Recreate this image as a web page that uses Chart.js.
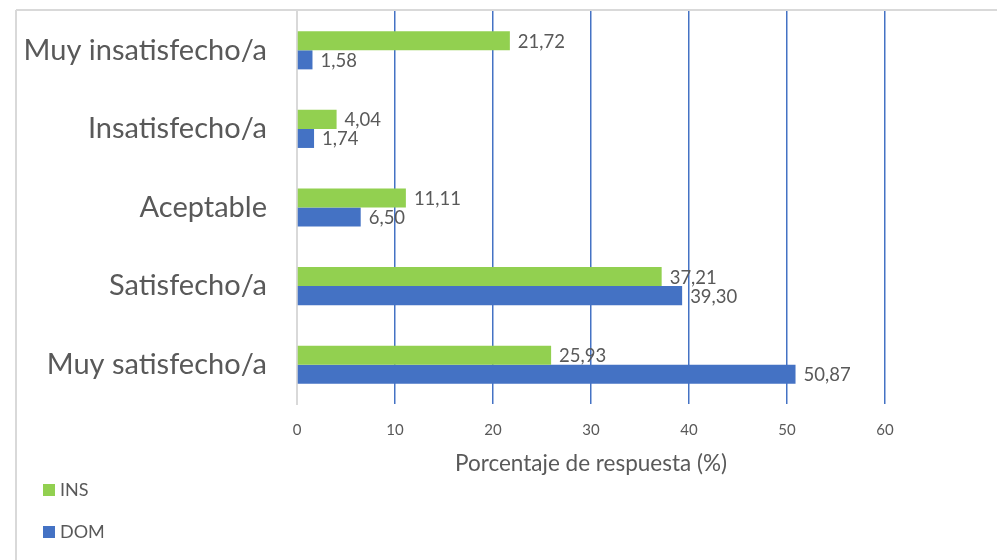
<!DOCTYPE html>
<html><head><meta charset="utf-8">
<script src="https://cdn.jsdelivr.net/npm/chart.js@4"></script>
<style>html,body{margin:0;padding:0;background:#fff}#wrap{width:997px;height:560px;position:relative}</style>
</head><body><div id="wrap"><canvas id="c" width="997" height="560"></canvas></div>
<script>
const categories = ['Muy insatisfecho/a', 'Insatisfecho/a', 'Aceptable', 'Satisfecho/a', 'Muy satisfecho/a'];
const insValues = [21.72, 4.04, 11.11, 37.21, 25.93];
const domValues = [1.58, 1.74, 6.50, 39.30, 50.87];
const xTickValues = [0, 10, 20, 30, 40, 50, 60];
const seriesNames = ['INS', 'DOM'];
const seriesColors = ['#92D050', '#4472C4'];
const axisTitle = 'Porcentaje de respuesta (%)';

const FONT = 'Lato';
const TEXT = '#595959';

const frame = {
  id: 'frame',
  beforeDraw(chart) {
    const c = chart.ctx;
    c.save();
    c.strokeStyle = '#d9d9d9';
    c.lineWidth = 2;
    c.beginPath();
    c.moveTo(16, 10); c.lineTo(997, 10);
    c.moveTo(16, 10); c.lineTo(16, 560);
    c.stroke();
    c.restore();
  }
};

const dataLabels = {
  id: 'dataLabels',
  afterDatasetsDraw(chart) {
    const c = chart.ctx;
    c.save();
    c.font = '18.5px ' + FONT;
    c.fillStyle = TEXT;
    c.textAlign = 'left';
    c.textBaseline = 'middle';
    chart.data.datasets.forEach((ds, di) => {
      const meta = chart.getDatasetMeta(di);
      meta.data.forEach((el, i) => {
        const v = ds.data[i];
        c.fillText(v.toFixed(2).replace('.', ','), el.x + 8, el.y + 1);
      });
    });
    c.restore();
  }
};

const legendPlugin = {
  id: 'customLegend',
  afterDraw(chart) {
    const c = chart.ctx;
    c.save();
    c.font = '18px ' + FONT;
    c.textAlign = 'left';
    c.textBaseline = 'middle';
    chart.data.datasets.forEach((ds, i) => {
      const cy = 490 + i * 42;
      c.fillStyle = ds.backgroundColor;
      c.fillRect(43, cy - 6, 12, 12);
      c.fillStyle = TEXT;
      c.fillText(ds.label, 60, cy);
    });
    c.restore();
  }
};

new Chart(document.getElementById('c'), {
  type: 'bar',
  data: {
    labels: categories,
    datasets: [
      { label: seriesNames[0], data: insValues, backgroundColor: seriesColors[0], borderWidth: 0 },
      { label: seriesNames[1], data: domValues, backgroundColor: seriesColors[1], borderWidth: 0 }
    ]
  },
  options: {
    indexAxis: 'y',
    responsive: false,
    animation: false,
    devicePixelRatio: 1,
    categoryPercentage: 0.485,
    barPercentage: 1.0,
    layout: { padding: { left: 0, top: 11, right: 112, bottom: 80 } },
    plugins: { legend: { display: false }, tooltip: { enabled: false } },
    scales: {
      x: {
        type: 'linear',
        min: 0, max: 60,
        afterFit(s) { s.height = 76; s.paddingLeft = 0; s.paddingRight = 0; },
        afterBuildTicks(s) { s.ticks = xTickValues.map(v => ({ value: v })); },
        ticks: { color: TEXT, font: { family: FONT, size: 15 }, padding: 17 },
        grid: {
          drawTicks: false, tickLength: 0,
          color: (ctx) => (ctx.tick && ctx.tick.value === 0) ? '#d9d9d9' : '#4472C4',
          lineWidth: 1.5
        },
        border: { display: false },
        title: { display: true, text: axisTitle, color: TEXT, font: { family: FONT, size: 22.5 }, padding: { top: 4, bottom: 3 } }
      },
      y: {
        afterFit(s) { s.width = 297; s.paddingTop = 0; s.paddingBottom = 0; },
        ticks: { color: TEXT, font: { family: FONT, size: 29 }, padding: 30 },
        grid: { display: false, drawTicks: false, tickLength: 0 },
        border: { display: true, color: '#d9d9d9', width: 2 }
      }
    }
  },
  plugins: [frame, dataLabels, legendPlugin]
});
</script>
</body></html>
